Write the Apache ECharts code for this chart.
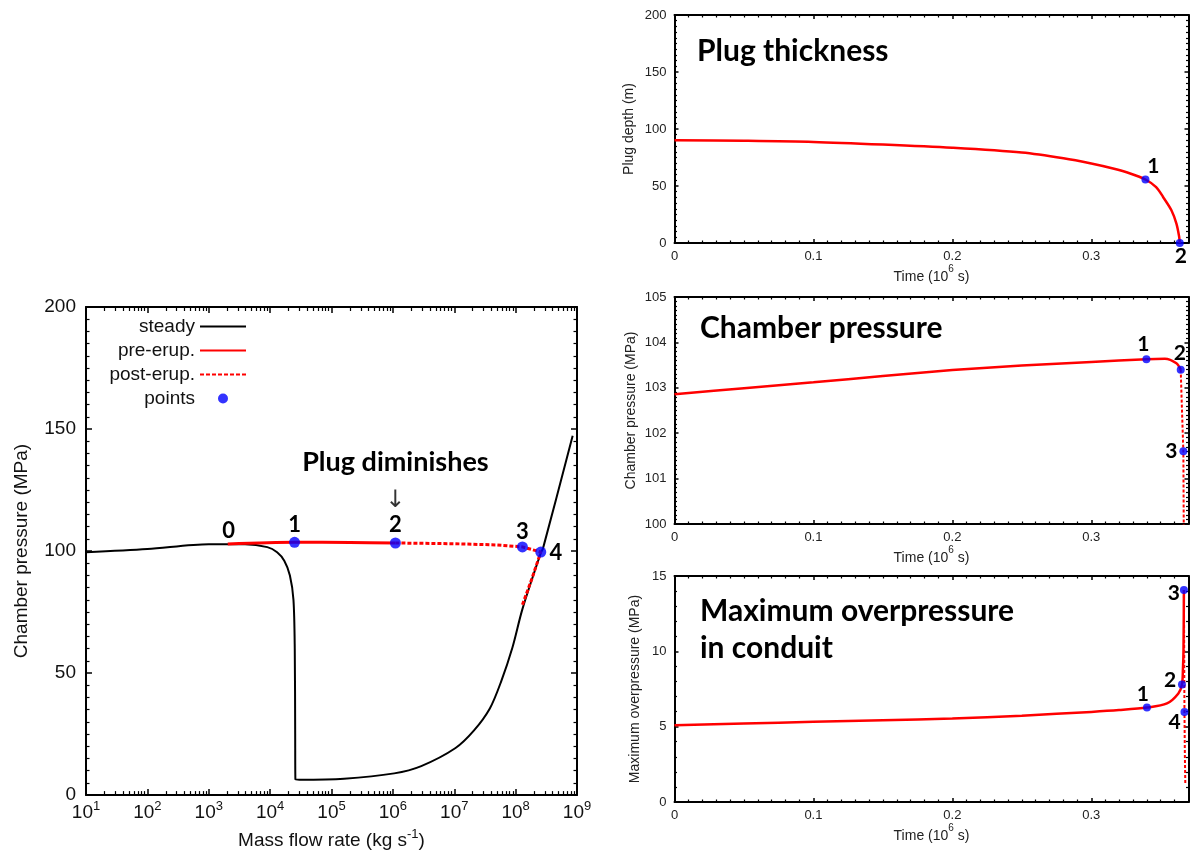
<!DOCTYPE html>
<html><head><meta charset="utf-8">
<script src="https://cdn.jsdelivr.net/npm/echarts@6/dist/echarts.min.js"></script>
<style>html,body{margin:0;padding:0;background:#fff}#c{width:1193px;height:855px}</style>
</head><body><div id="c"></div>
<script>
// ---------- Left panel: chamber pressure vs mass flow rate ----------
const steadyFlow = [10, 100, 1000, 3900, 9000, 13000, 17000, 21000, 24000, 25200, 25600, 25800, 30000, 160000, 1050000, 2900000, 10500000, 21000000, 38000000, 58000000, 89000000, 129000000, 257000000, 280000000, 850000000];
const steadyPressure = [99.5, 100.8, 102.8, 102.8, 101.6, 99.5, 96, 90, 80, 60, 25, 6.5, 6.3, 6.7, 8.9, 11.9, 19.3, 26.5, 35.5, 46.5, 60.6, 76.2, 99.2, 101.2, 147.2];
const preFlow = [2040, 25000, 200000, 1100000];
const prePressure = [102.9, 103.6, 103.5, 103.3];
const postFlow = [1100000, 10000000, 50000000, 129000000, 257000000, 182000000, 127000000];
const postPressure = [103.3, 103.0, 102.5, 101.7, 99.6, 88.3, 77.5];
const pointFlow = [25000, 1100000, 129000000, 257000000];
const pointPressure = [103.6, 103.3, 101.7, 99.6];
const pointNames = ['1', '2', '3', '4'];
const startFlow = 2040, startPressure = 102.9, startName = '0';
const noteText = 'Plug diminishes';
const noteFlow = 1100000, noteArrowPressure = 120.8, noteTextPressure = 136.4;
const legendNames = ['steady', 'pre-erup.', 'post-erup.', 'points'];

// ---------- Right panels: time series ----------
const plugTime = [0, 0.05, 0.1, 0.15, 0.2, 0.25, 0.28, 0.3, 0.3157, 0.328, 0.339, 0.3467, 0.3517, 0.3577, 0.3613, 0.3632, 0.3637];
const plugDepth = [90.2, 89.7, 88.7, 86.4, 83.5, 79.3, 74.3, 69.7, 65.3, 61.0, 55.7, 49.0, 40.4, 28.7, 17, 6, 0];
const plugPointTime = [0.339, 0.3637];
const plugPointDepth = [55.7, 0];
const plugPointNames = ['1', '2'];

const chamberPreTime = [0, 0.05, 0.1, 0.15, 0.2, 0.25, 0.3, 0.3397, 0.353, 0.3613, 0.3644];
const chamberPrePressure = [102.86, 102.99, 103.12, 103.26, 103.39, 103.49, 103.57, 103.63, 103.64, 103.54, 103.40];
const chamberPostTime = [0.3644, 0.3650, 0.3663, 0.3666];
const chamberPostPressure = [103.40, 102.8, 101.6, 99.8];
const chamberPointTime = [0.3397, 0.3644, 0.3663];
const chamberPointPressure = [103.63, 103.40, 101.6];
const chamberPointNames = ['1', '2', '3'];

const overPreTime = [0, 0.05, 0.1, 0.15, 0.2, 0.25, 0.3, 0.32, 0.3401, 0.3545, 0.3627, 0.3653, 0.3660, 0.3664, 0.3667];
const overPrePressure = [5.10, 5.21, 5.32, 5.43, 5.54, 5.73, 5.98, 6.1, 6.27, 6.54, 7.2, 7.8, 8.8, 10.1, 14.07];
const overPostTime = [0.3667, 0.3669, 0.3670, 0.3671, 0.3674, 0.3677];
const overPostPressure = [14.07, 10, 7.8, 5.98, 3, 1.2];
const overPointTime = [0.3401, 0.3653, 0.3667, 0.3671];
const overPointPressure = [6.27, 7.8, 14.07, 5.98];
const overPointNames = ['1', '2', '3', '4'];

const panelTitles = ['Plug thickness', 'Chamber pressure', 'Maximum overpressure\nin conduit'];

// ---------- label offsets (pixels, style only) ----------
const leftLabelOffsets = [[0, -17], [0, -18], [0, -15], [15, 1]];
const plugLabelOffsets = [[8, -13], [1, 13]];
const chamberLabelOffsets = [[-3, -15], [-1, -16], [-12, 0]];
const overLabelOffsets = [[-4, -13], [-12, -4], [-10, 3], [-10, 10]];

const zip = (xs, ys) => xs.map((x, i) => [x, ys[i]]);
const clone = o => JSON.parse(JSON.stringify(o));
const SANS = 'Liberation Sans, Arial, Helvetica, sans-serif';
const BOLD = 'Lato, Open Sans, sans-serif';
const RED = '#ff0000', BLUE = '#0000ff';

function axisBase(grid, c) {
  const a = {
    gridIndex: grid, type: c.type || 'value', min: c.min, max: c.max,
    axisLine: {show: true, onZero: false, lineStyle: {color: '#000', width: 2}},
    axisTick: {show: true, inside: true, length: c.tickLen, lineStyle: {color: '#000', width: 1.5}},
    minorTick: {show: true, splitNumber: c.minorSplit, length: c.minorLen, lineStyle: {color: '#000', width: 1.2}},
    splitLine: {show: false}, minorSplitLine: {show: false}
  };
  if (c.interval != null) a.interval = c.interval;
  if (c.splitNumber != null) a.splitNumber = c.splitNumber;
  if (c.logBase != null) a.logBase = c.logBase;
  return a;
}
function xPair(grid, c) {
  const b = axisBase(grid, c);
  const bottom = Object.assign(clone(b), {position: 'bottom', axisLabel: c.label, name: c.name, nameLocation: 'middle', nameGap: c.nameGap, nameTextStyle: c.nameStyle});
  const top = Object.assign(clone(b), {position: 'top', axisLabel: {show: false}});
  return [bottom, top];
}
function yPair(grid, c) {
  const b = axisBase(grid, c);
  const left = Object.assign(clone(b), {position: 'left', axisLabel: c.label, name: c.name, nameLocation: 'middle', nameGap: c.nameGap, nameTextStyle: c.nameStyle});
  const right = Object.assign(clone(b), {position: 'right', axisLabel: {show: false}});
  return [left, right];
}

const rightXLabel = {
  show: true, margin: 7, fontSize: 13, color: '#222', fontFamily: SANS, showMaxLabel: false,
  formatter: v => (Math.abs(v * 10 - Math.round(v * 10)) < 1e-6 ? (v === 0 ? '0' : v.toFixed(1)) : '')
};
const timeName = '{a|Time (10}{s|6}{a| s)}';
const timeNameStyle = {color: '#222', rich: {a: {fontSize: 14, fontFamily: SANS, color: '#222', lineHeight: 20, verticalAlign: 'bottom'}, s: {fontSize: 10, fontFamily: SANS, color: '#222', verticalAlign: 'top', lineHeight: 10}}};
const rightYLabel = {show: true, margin: 8, fontSize: 13, color: '#222', fontFamily: SANS};
const rightYName = {fontSize: 14, fontFamily: SANS, color: '#222'};

const xAxes = [].concat(
  xPair(0, {type: 'log', logBase: 10, min: 10, max: 1e9, splitNumber: 8, tickLen: 6, minorSplit: 9, minorLen: 4,
    label: {show: true, margin: 5, color: '#111', fontFamily: SANS,
      formatter: v => '{b|10}{s|' + Math.round(Math.log10(v)) + '}',
      rich: {b: {fontSize: 19, fontFamily: SANS, color: '#111', lineHeight: 26}, s: {fontSize: 13, fontFamily: SANS, color: '#111', verticalAlign: 'top', lineHeight: 13}}},
    name: '{a|Mass flow rate (kg s}{s|-1}{a|)}', nameGap: 30,
    nameStyle: {color: '#111', rich: {a: {fontSize: 19, fontFamily: SANS, color: '#111', lineHeight: 26}, s: {fontSize: 13, fontFamily: SANS, color: '#111', verticalAlign: 'top', lineHeight: 13}}}}),
  xPair(1, {min: 0, max: 0.37, interval: 0.1, tickLen: 4, minorSplit: 10, minorLen: 2.5, label: rightXLabel, name: timeName, nameGap: 18, nameStyle: timeNameStyle}),
  xPair(2, {min: 0, max: 0.37, interval: 0.1, tickLen: 4, minorSplit: 10, minorLen: 2.5, label: rightXLabel, name: timeName, nameGap: 18, nameStyle: timeNameStyle}),
  xPair(3, {min: 0, max: 0.37, interval: 0.1, tickLen: 4, minorSplit: 10, minorLen: 2.5, label: rightXLabel, name: timeName, nameGap: 18, nameStyle: timeNameStyle})
);
const yAxes = [].concat(
  yPair(0, {min: 0, max: 200, interval: 50, tickLen: 6, minorSplit: 10, minorLen: 3.5,
    label: {show: true, margin: 10, fontSize: 19, color: '#111', fontFamily: SANS},
    name: 'Chamber pressure (MPa)', nameGap: 55, nameStyle: {fontSize: 19, fontFamily: SANS, color: '#111'}}),
  yPair(1, {min: 0, max: 200, interval: 50, tickLen: 4, minorSplit: 10, minorLen: 2.5, label: rightYLabel, name: 'Plug depth (m)', nameGap: 38, nameStyle: rightYName}),
  yPair(2, {min: 100, max: 105, interval: 1, tickLen: 4, minorSplit: 10, minorLen: 2.5, label: rightYLabel, name: 'Chamber pressure (MPa)', nameGap: 36, nameStyle: rightYName}),
  yPair(3, {min: 0, max: 15, interval: 5, tickLen: 4, minorSplit: 5, minorLen: 2.5, label: rightYLabel, name: 'Maximum overpressure (MPa)', nameGap: 32, nameStyle: rightYName})
);

const numLabel = (fs) => ({show: true, position: 'inside', color: '#000', fontFamily: BOLD, fontWeight: 'bold', fontSize: fs, textBorderWidth: 0, opacity: 1});
function pointData(xs, ys, names, offsets, fs) {
  return xs.map((x, i) => ({value: [x, ys[i]], name: names[i],
    label: Object.assign(numLabel(fs), {formatter: names[i], offset: offsets[i]})}));
}
function lineSeries(name, xi, data, color, width, type, smooth) {
  return {name: name, type: 'line', xAxisIndex: xi, yAxisIndex: xi, data: data, symbol: 'none', showSymbol: false,
    smooth: smooth || false,
    lineStyle: {color: color, width: width, type: type || 'solid'}, itemStyle: {color: color}, z: 3, animation: false};
}
function pointSeries(name, xi, data, size) {
  return {name: name, type: 'scatter', xAxisIndex: xi, yAxisIndex: xi, data: data, symbol: 'circle', symbolSize: size,
    itemStyle: {color: BLUE}, z: 5, animation: false};
}

const series = [
  lineSeries('steady', 0, zip(steadyFlow, steadyPressure), '#000', 2, 'solid', 0.3),
  lineSeries('pre-erup.', 0, zip(preFlow, prePressure), RED, 3, 'solid', 0.3),
  lineSeries('post-erup.', 0, zip(postFlow, postPressure), RED, 3, [4, 2]),
  pointSeries('points', 0, pointData(pointFlow, pointPressure, pointNames, leftLabelOffsets, 22), 11),
  {name: 'annotations', type: 'scatter', xAxisIndex: 0, yAxisIndex: 0, symbolSize: 0, z: 6, animation: false, silent: true,
    data: [
      {value: [startFlow, startPressure], label: Object.assign(numLabel(22), {formatter: startName, offset: [1, -13]})},
      {value: [noteFlow, noteTextPressure], label: Object.assign(numLabel(27), {formatter: noteText})},
      {value: [noteFlow, noteArrowPressure], label: {show: true, position: 'inside', formatter: '\u2193', color: '#000', fontFamily: 'DejaVu Sans', fontSize: 24, textBorderWidth: 0}}
    ]},
  lineSeries('plug pre-erup.', 2, zip(plugTime, plugDepth), RED, 2.5, 'solid', 0.3),
  pointSeries('plug points', 2, pointData(plugPointTime, plugPointDepth, plugPointNames, plugLabelOffsets, 21), 8),
  lineSeries('chamber pre-erup.', 4, zip(chamberPreTime, chamberPrePressure), RED, 2.5, 'solid', 0.3),
  lineSeries('chamber post-erup.', 4, zip(chamberPostTime, chamberPostPressure), RED, 2, [3, 2]),
  pointSeries('chamber points', 4, pointData(chamberPointTime, chamberPointPressure, chamberPointNames, chamberLabelOffsets, 21), 8),
  lineSeries('over pre-erup.', 6, zip(overPreTime, overPrePressure), RED, 2.5, 'solid', 0.3),
  lineSeries('over post-erup.', 6, zip(overPostTime, overPostPressure), RED, 2, [3, 2]),
  pointSeries('over points', 6, pointData(overPointTime, overPointPressure, overPointNames, overLabelOffsets, 21), 8)
];
series.forEach(s => { s.yAxisIndex = s.xAxisIndex; });

const titleStyle = {fontFamily: BOLD, fontWeight: 'bold', fontSize: 30, color: '#000', lineHeight: 37};
const option = {
  backgroundColor: '#fff',
  animation: false,
  title: [
    {text: panelTitles[0], left: 697, top: 33, padding: 0, textStyle: clone(titleStyle)},
    {text: panelTitles[1], left: 700, top: 310, padding: 0, textStyle: clone(titleStyle)},
    {text: panelTitles[2], left: 700, top: 593, padding: 0, textStyle: clone(titleStyle)}
  ],
  legend: {
    data: legendNames.map(n => n === 'points' ? {name: n, icon: 'circle'} : {name: n, itemStyle: {opacity: 0}}),
    orient: 'vertical', align: 'right', right: 946, top: 317, padding: 0,
    itemWidth: 46, itemHeight: 10, itemGap: 5, selectedMode: false,
    textStyle: {fontSize: 19, fontFamily: SANS, color: '#111'}
  },
  grid: [
    {left: 86, top: 307, width: 491, height: 492},
    {left: 674.5, top: 15, width: 514, height: 228},
    {left: 674.5, top: 297, width: 514, height: 227},
    {left: 674.5, top: 576, width: 514, height: 226}
  ],
  xAxis: xAxes,
  yAxis: yAxes,
  series: series
};
const chart = echarts.init(document.getElementById('c'), null, {renderer: 'canvas'});
chart.setOption(option);
</script></body></html>
